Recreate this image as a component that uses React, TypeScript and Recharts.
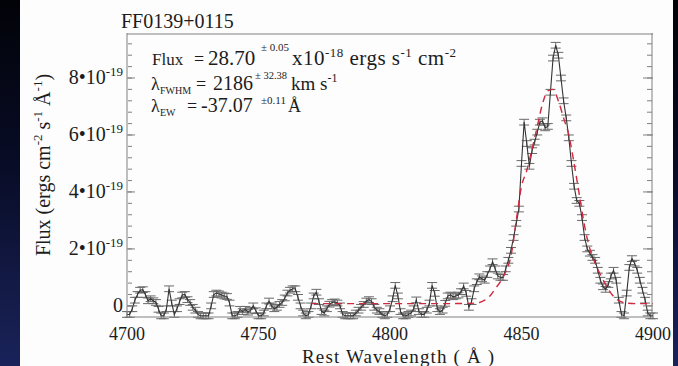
import React from 'react'
import { LineChart, Line, XAxis, YAxis, ErrorBar } from 'recharts'

// spectrum sampled every 1 A starting at 4700, flux in units of 1e-19
const wlStart = 4700
const flux = [
  -0.3, -0.3, -0.1, 0.2, 0.4, 0.55, 0.57, 0.4, 0.18, 0.25,
  0.18, 0.12, -0.12, -0.35, -0.35, -0.1, 0.6, 0.1, -0.3, -0.1,
  0.15, 0.38, 0.4, 0.22, 0.12, -0.05, -0.15, -0.3, -0.35, -0.35,
  -0.35, -0.35, 0.0, 0.4, 0.45, 0.42, 0.38, 0.35, 0.33, 0.1,
  -0.35, -0.35, -0.3, -0.12, -0.2, -0.12, -0.22, -0.15, 0.0, -0.17,
  -0.35, -0.35, -0.25, 0.0, 0.17, 0.0, -0.1, -0.05, 0.05, 0.12,
  0.28, 0.45, 0.55, 0.6, 0.6, 0.3, 0.0, -0.25, -0.35, -0.3,
  0.0, 0.35, 0.48, 0.15, -0.2, -0.25, -0.1, 0.06, 0.12, 0.14,
  0.1, 0.0, -0.3, -0.35, -0.35, -0.35, -0.35, -0.25, -0.15, -0.05,
  0.05, 0.17, 0.22, 0.15, -0.05, -0.15, -0.2, -0.3, -0.35, -0.3,
  -0.1, 0.25, 0.72, 0.35, -0.2, -0.35, -0.35, -0.3, -0.25, -0.1,
  0.21, -0.2, -0.3, -0.3, -0.15, 0.1, 0.72, 0.44, -0.1, -0.2,
  -0.15, 0.09, 0.35, 0.38, 0.32, 0.35, 0.38, 0.5, 0.7, 0.44,
  -0.05, 0.15, 0.6, 0.85, 1.02, 0.95, 0.9, 1.1, 1.3, 1.55,
  1.3, 1.05, 1.0, 1.0, 1.3, 1.6, 1.95, 2.4, 2.9, 3.4,
  5.0, 6.45, 5.7, 4.9, 5.45, 5.75, 6.1, 6.45, 6.5, 6.25,
  6.3, 7.5, 8.7, 9.15, 8.8, 8.0, 7.2, 6.6, 5.9, 5.0,
  4.2, 3.7, 3.6, 3.1, 2.4, 2.0, 1.85, 1.7, 1.6, 1.25,
  0.9, 0.67, 0.58, 0.75, 1.05, 1.25, 0.9, 0.2, -0.3, -0.35,
  0.45, 1.35, 1.66, 1.5, 1.25, 0.9, 0.55, 0.2, -0.25, -0.35,
  -0.35,
]
const fluxErr = 0.1

// gaussian fit (red dashed)
const modelWl = [
  4770, 4780, 4790, 4800, 4810, 4820, 4830, 4834, 4836, 4838, 4840, 4842, 4844,
  4846, 4848, 4850, 4852, 4854, 4856, 4858, 4860, 4862, 4864, 4866, 4868, 4870,
  4872, 4874, 4876, 4878, 4880, 4882, 4884, 4886, 4888, 4890, 4894, 4900,
]
const modelFlux = [
  0.08, 0.08, 0.08, 0.08, 0.08, 0.08, 0.09, 0.12, 0.2, 0.35, 0.6, 0.85, 1.2,
  1.75, 3.0, 4.2, 4.75, 5.5, 6.3, 7.1, 7.55, 7.6, 7.2, 6.6, 6.0, 5.0,
  3.9, 2.8, 2.0, 1.5, 1.1, 0.75, 0.45, 0.25, 0.14, 0.1, 0.08, 0.08,
]

const xMajor = [4700, 4750, 4800, 4850, 4900]
const xMinor = [
  4700, 4710, 4720, 4730, 4740, 4750, 4760, 4770, 4780, 4790, 4800,
  4810, 4820, 4830, 4840, 4850, 4860, 4870, 4880, 4890, 4900,
]
const yMajor = [0, 2, 4, 6, 8]
const yMinor = [
  0, 0.4, 0.8, 1.2, 1.6, 2, 2.4, 2.8, 3.2, 3.6, 4, 4.4, 4.8, 5.2, 5.6, 6,
  6.4, 6.8, 7.2, 7.6, 8, 8.4, 8.8, 9.2,
]

const rows = flux.map((f, i) => {
  const wl = wlStart + i
  const m = modelWl.indexOf(wl)
  return { wl, flux: f, err: fluxErr, model: m >= 0 ? modelFlux[m] : null }
})

const FONT = '"Liberation Serif", "Times New Roman", serif'
const INK = '#1c1c1c'
const FRAME = '#808080'
const xDomain: [number, number] = [4700, 4900]
const yDomain: [number, number] = [-0.39, 9.58]

function YTick(props: any) {
  const { x, y, payload } = props
  const v = payload.value
  return (
    <text x={x} y={y} dy={6} textAnchor="end" fontSize={20} fill={INK} fontFamily={FONT}>
      {v === 0 ? '0' : (
        <>
          {`${v}•10`}
          <tspan dy={-8} fontSize={13}>-19</tspan>
        </>
      )}
    </text>
  )
}

// inward tick marks only, no label
function NoLabel() {
  return null
}

function Annotations() {
  const t = { fontFamily: FONT, fill: INK }
  return (
    <svg width={678} height={366} style={{ position: 'absolute', left: 0, top: 0, pointerEvents: 'none' }}>
      <text x={121} y={28} fontSize={20} {...t}>FF0139+0115</text>

      <text x={152} y={65} fontSize={17} {...t}>Flux</text>
      <text x={194} y={65} fontSize={18} {...t}>=</text>
      <text x={208} y={65} fontSize={21} {...t}>28.70</text>
      <text x={261} y={51} fontSize={11} {...t}>± 0.05</text>
      <text x={292} y={65} fontSize={21} textLength={164} lengthAdjust="spacing" {...t}>
        x10<tspan dy={-8} fontSize={13}>-18</tspan>
        <tspan dy={8}> ergs s</tspan><tspan dy={-8} fontSize={13}>-1</tspan>
        <tspan dy={8}> cm</tspan><tspan dy={-8} fontSize={13}>-2</tspan>
      </text>

      <text x={151} y={90} fontSize={18} {...t}>λ</text>
      <text x={160} y={94} fontSize={10} {...t}>FWHM</text>
      <text x={196} y={90} fontSize={18} {...t}>=</text>
      <text x={213} y={90} fontSize={20} {...t}>2186</text>
      <text x={255} y={79} fontSize={10.5} {...t}>± 32.38</text>
      <text x={291} y={90} fontSize={19} {...t}>
        km s<tspan dy={-8} fontSize={12}>-1</tspan>
      </text>

      <text x={151} y={112} fontSize={18} {...t}>λ</text>
      <text x={160} y={116} fontSize={10} {...t}>EW</text>
      <text x={187} y={112} fontSize={18} {...t}>=</text>
      <text x={201} y={112} fontSize={20} {...t}>-37.07</text>
      <text x={261} y={104} fontSize={11} {...t}>±0.11</text>
      <text x={288} y={112} fontSize={18} {...t}>Å</text>

      <text x={398} y={363} fontSize={19} textAnchor="middle" textLength={192} lengthAdjust="spacing" {...t}>
        Rest Wavelength ( Å )
      </text>
      <text transform="translate(50,165) rotate(-90)" fontSize={20} textAnchor="middle" {...t}>
        Flux (ergs cm<tspan dy={-8} fontSize={13}>-2</tspan>
        <tspan dy={8}> s</tspan><tspan dy={-8} fontSize={13}>-1</tspan>
        <tspan dy={8}> Å</tspan><tspan dy={-8} fontSize={13}>-1</tspan>
        <tspan dy={8}>)</tspan>
      </text>
    </svg>
  )
}

export default function App() {
  const tl = { stroke: FRAME, strokeWidth: 1 }
  return (
    <div
      style={{
        position: 'absolute', left: 0, top: 0, width: 678, height: 366, overflow: 'hidden',
        background: 'linear-gradient(180deg, #020308 0%, #080c26 45%, #1a235a 100%)',
      }}
    >
      <div style={{ position: 'absolute', left: 20, top: 0, width: 653, height: 366, background: '#fdfdfd' }}>
        <LineChart width={653} height={366} data={rows} margin={{ top: 33, right: 20, bottom: 0, left: 0 }}>
          <XAxis
            xAxisId="x" dataKey="wl" type="number" domain={xDomain} allowDataOverflow
            ticks={xMajor} interval={0} height={49} tickSize={4} tickMargin={6} tickLine={false}
            axisLine={{ stroke: FRAME }} tick={{ fontSize: 18, fill: INK, fontFamily: FONT }}
          />
          <XAxis xAxisId="xMinB" type="number" domain={xDomain} allowDataOverflow mirror height={1} ticks={xMinor}
            interval={0} tickSize={8} tick={<NoLabel />} axisLine={false} tickLine={tl} />
          <XAxis xAxisId="xMajB" type="number" domain={xDomain} allowDataOverflow mirror height={1} ticks={xMajor}
            interval={0} tickSize={14} tick={<NoLabel />} axisLine={false} tickLine={tl} />
          <XAxis xAxisId="xMinT" orientation="top" type="number" domain={xDomain} allowDataOverflow mirror height={1}
            ticks={xMinor} interval={0} tickSize={5} tick={<NoLabel />} axisLine={{ stroke: FRAME }} tickLine={tl} />
          <XAxis xAxisId="xMajT" orientation="top" type="number" domain={xDomain} allowDataOverflow mirror height={1}
            ticks={xMajor} interval={0} tickSize={10} tick={<NoLabel />} axisLine={false} tickLine={tl} />

          <YAxis
            yAxisId="y" type="number" domain={yDomain} allowDataOverflow width={107}
            ticks={yMajor} interval={0} tickSize={2} tickMargin={2} tickLine={false}
            axisLine={{ stroke: FRAME }} tick={<YTick />}
          />
          <YAxis yAxisId="yMinL" type="number" domain={yDomain} allowDataOverflow mirror width={1} ticks={yMinor}
            interval={0} tickSize={4} tick={<NoLabel />} axisLine={false} tickLine={tl} />
          <YAxis yAxisId="yMajL" type="number" domain={yDomain} allowDataOverflow mirror width={1} ticks={yMajor}
            interval={0} tickSize={8} tick={<NoLabel />} axisLine={false} tickLine={tl} />
          <YAxis yAxisId="yMinR" orientation="right" type="number" domain={yDomain} allowDataOverflow mirror width={1}
            ticks={yMinor} interval={0} tickSize={5} tick={<NoLabel />} axisLine={{ stroke: FRAME }} tickLine={tl} />
          <YAxis yAxisId="yMajR" orientation="right" type="number" domain={yDomain} allowDataOverflow mirror width={1}
            ticks={yMajor} interval={0} tickSize={10} tick={<NoLabel />} axisLine={false} tickLine={tl} />

          <Line
            xAxisId="x" yAxisId="y" dataKey="flux" type="linear" stroke="#333" strokeWidth={1.1}
            dot={false} isAnimationActive={false}
          >
            <ErrorBar dataKey="err" direction="y" width={5} stroke="#6a6a6a" strokeWidth={1} isAnimationActive={false} />
          </Line>
          <Line
            xAxisId="x" yAxisId="y" dataKey="model" type="monotone" stroke="#d0283e" strokeWidth={1.4}
            strokeDasharray="7 5" dot={false} connectNulls isAnimationActive={false}
          />
        </LineChart>
      </div>
      <Annotations />
    </div>
  )
}
